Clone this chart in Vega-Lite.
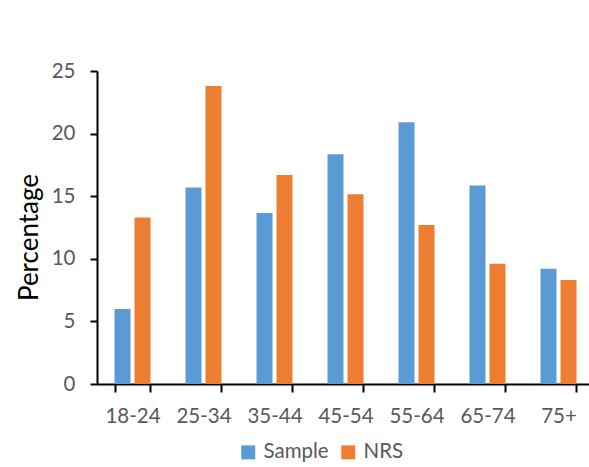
{
  "$schema": "https://vega.github.io/schema/vega-lite/v6.json",
  "width": 497,
  "height": 313,
  "autosize": {"type": "none"},
  "padding": {"left": 97, "top": 71, "right": 0, "bottom": 83},
  "background": "white",
  "data": {
    "values": [
      {"age": "18-24", "series": "Sample", "value": 6.0},
      {"age": "18-24", "series": "NRS", "value": 13.3},
      {"age": "25-34", "series": "Sample", "value": 15.7},
      {"age": "25-34", "series": "NRS", "value": 23.8},
      {"age": "35-44", "series": "Sample", "value": 13.65},
      {"age": "35-44", "series": "NRS", "value": 16.7},
      {"age": "45-54", "series": "Sample", "value": 18.35},
      {"age": "45-54", "series": "NRS", "value": 15.15},
      {"age": "55-64", "series": "Sample", "value": 20.9},
      {"age": "55-64", "series": "NRS", "value": 12.7},
      {"age": "65-74", "series": "Sample", "value": 15.85},
      {"age": "65-74", "series": "NRS", "value": 9.6},
      {"age": "75+", "series": "Sample", "value": 9.2},
      {"age": "75+", "series": "NRS", "value": 8.3}
    ]
  },
  "mark": {"type": "bar"},
  "encoding": {
    "x": {
      "field": "age",
      "type": "nominal",
      "sort": ["18-24", "25-34", "35-44", "45-54", "55-64", "65-74", "75+"],
      "scale": {"paddingInner": 0.493, "paddingOuter": 0.2465},
      "axis": {
        "title": null,
        "labelAngle": 0,
        "tickBand": "extent",
        "domainColor": "#000000",
        "domainWidth": 2,
        "tickColor": "#000000",
        "tickWidth": 2,
        "tickSize": 8,
        "labelFontSize": 20.5,
        "labelFont": "Lato",
        "labelColor": "#595959",
        "labelPadding": 14
      }
    },
    "xOffset": {
      "field": "series",
      "sort": ["Sample", "NRS"],
      "scale": {"paddingInner": 0.2, "paddingOuter": 0}
    },
    "y": {
      "field": "value",
      "type": "quantitative",
      "scale": {"domain": [0, 25]},
      "axis": {
        "title": "Percentage",
        "titleFontSize": 26,
        "titleFont": "Lato",
        "titleFontWeight": "normal",
        "titleColor": "#000000",
        "titlePadding": 9,
        "titleY": 166,
        "values": [0, 5, 10, 15, 20, 25],
        "grid": false,
        "domainColor": "#000000",
        "domainWidth": 2,
        "tickColor": "#000000",
        "tickWidth": 2,
        "tickSize": 7,
        "labelFontSize": 20.5,
        "labelFont": "Lato",
        "labelColor": "#595959",
        "labelPadding": 15
      }
    },
    "color": {
      "field": "series",
      "type": "nominal",
      "scale": {"domain": ["Sample", "NRS"], "range": ["#5B9BD5", "#ED7D31"]},
      "legend": {
        "title": null,
        "orient": "none",
        "direction": "horizontal",
        "legendX": 141,
        "legendY": 371,
        "symbolType": "square",
        "symbolSize": 196,
        "symbolStrokeWidth": 0,
        "symbolOpacity": 1,
        "labelFontSize": 20.5,
        "labelFont": "Lato",
        "labelColor": "#595959",
        "labelOffset": 5,
        "columnPadding": 9
      }
    }
  },
  "config": {"view": {"stroke": null}}
}
